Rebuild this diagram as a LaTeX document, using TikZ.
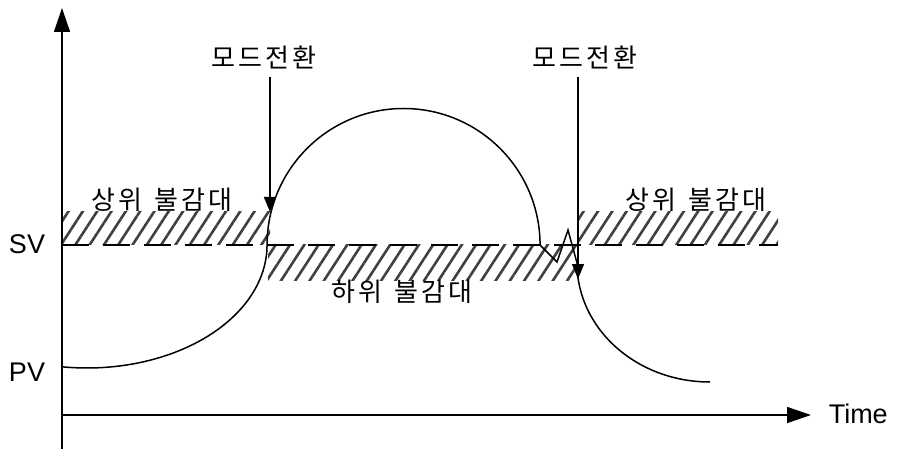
\documentclass[tikz,border=0pt]{standalone}
\usepackage{fontspec}
\setmainfont{Liberation Sans}
\newfontfamily\krfont[LetterSpace=11,WordSpace=1.4]{Noto Sans CJK KR}
\usetikzlibrary{arrows.meta,patterns.meta}
\begin{document}
\begin{tikzpicture}[x=1pt,y=-1pt,line width=1.5pt,
  lbl/.style={font=\fontsize{27}{27}\selectfont,inner sep=0pt},
  krl/.style={font=\krfont\fontsize{26}{26}\selectfont,inner sep=0pt},
  hatch/.style={pattern={Lines[angle=57,distance=12pt,line width=2.6pt]},pattern color=black!75},
  bigarrow/.style={-{Triangle[length=24pt,width=16pt]}},
  smallarrow/.style={-{Triangle[length=15pt,width=12pt]},shorten <=8pt},
  svline/.style={dash pattern=on 27pt off 14pt,line width=1.4pt}]
\useasboundingbox (0,0) rectangle (897,449);
% coordinates
\coordinate (o) at (62,415);
\coordinate (ybot) at (62,449);
\coordinate (ytop) at (62,8);
\coordinate (xend) at (811,415);
\coordinate (svL) at (62,245);
\coordinate (svR) at (778,245);
\coordinate (pv0) at (62,366.8);
\coordinate (m1) at (270,212);
\coordinate (m2) at (578,279);
% dead bands
\fill[hatch] (62,212) rectangle (270,245);
\fill[hatch] (578,212) rectangle (778,245);
\fill[hatch] (268,245) rectangle (578,280);
% SV line
\draw[svline] (svL) -- (svR);
% axes
\draw[bigarrow] (ybot) -- (ytop);
\draw[bigarrow] (o) -- (xend);
% PV curve
\draw (pv0) arc[start angle=98,end angle=0,x radius=180,y radius=123]
  arc[start angle=180,end angle=360,radius=136.5]
  -- (557,262) -- (568,230) -- (577,263)
  arc[start angle=180,end angle=90,x radius=133,y radius=119];
% labels
\node[lbl] (sv) at (27,244) {SV};
\node[lbl] (pv) at (27,372) {PV};
\node[lbl,anchor=west] (time) at (828,414) {Time};
\node[krl] (k1) at (264,57) {모드전환};
\node[krl] (k2) at (585,57) {모드전환};
\node[krl] (u1) at (162,200) {상위 불감대};
\node[krl] (u2) at (696,200) {상위 불감대};
\node[krl] (lo) at (402,292) {하위 불감대};
% mode switch arrows
\draw[smallarrow] (k1.south -| m1) -- (m1);
\draw[smallarrow] (k2.south -| m2) -- (m2);
\end{tikzpicture}
\end{document}
